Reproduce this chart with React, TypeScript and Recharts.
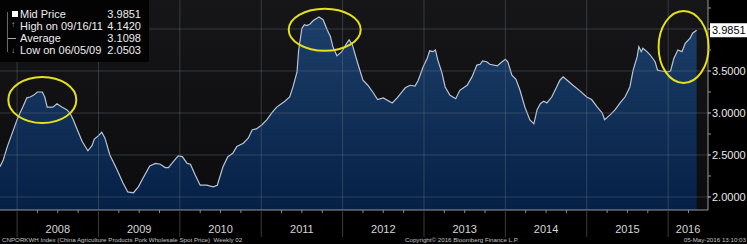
import React from 'react'
import { AreaChart, Area, XAxis, YAxis, CartesianGrid, ReferenceLine, ReferenceDot } from 'recharts'

// weekly spot price, sampled off the chart (decimal years)
const weeks = [
  2007.79, 2007.83, 2007.88, 2007.94, 2008.0, 2008.04, 2008.07, 2008.12, 2008.16, 2008.2,
  2008.25, 2008.31, 2008.34, 2008.37, 2008.44, 2008.49, 2008.55, 2008.61, 2008.65, 2008.69,
  2008.74, 2008.8, 2008.87, 2008.92, 2008.95, 2009.0, 2009.04, 2009.08, 2009.14, 2009.23,
  2009.3, 2009.36, 2009.43, 2009.49, 2009.55, 2009.63, 2009.7, 2009.76, 2009.82, 2009.86,
  2009.92, 2009.98, 2010.03, 2010.09, 2010.13, 2010.19, 2010.25, 2010.33, 2010.41, 2010.46,
  2010.53, 2010.59, 2010.65, 2010.7, 2010.78, 2010.84, 2010.89, 2010.94, 2011.01, 2011.07,
  2011.13, 2011.19, 2011.26, 2011.29, 2011.35, 2011.39, 2011.44, 2011.46, 2011.5, 2011.53,
  2011.56, 2011.6, 2011.64, 2011.69, 2011.71, 2011.76, 2011.81, 2011.85, 2011.88, 2011.93,
  2011.99, 2012.05, 2012.08, 2012.12, 2012.18, 2012.25, 2012.31, 2012.37, 2012.43, 2012.5,
  2012.61, 2012.67, 2012.73, 2012.77, 2012.83, 2012.89, 2012.93, 2012.99, 2013.04, 2013.07,
  2013.11, 2013.14, 2013.17, 2013.22, 2013.26, 2013.32, 2013.39, 2013.44, 2013.53, 2013.59,
  2013.65, 2013.69, 2013.72, 2013.77, 2013.81, 2013.9, 2013.96, 2014.0, 2014.03, 2014.08,
  2014.13, 2014.18, 2014.24, 2014.3, 2014.35, 2014.39, 2014.43, 2014.47, 2014.51, 2014.57,
  2014.63, 2014.67, 2014.71, 2014.77, 2014.83, 2014.92, 2015.0, 2015.06, 2015.13, 2015.19,
  2015.22, 2015.29, 2015.35, 2015.41, 2015.47, 2015.53, 2015.57, 2015.62, 2015.64, 2015.67,
  2015.69, 2015.74, 2015.78, 2015.84, 2015.87, 2015.92, 2015.99, 2016.03, 2016.07, 2016.12,
  2016.17, 2016.21, 2016.27, 2016.3, 2016.35,
]
const prices = [
  2.36, 2.44, 2.6, 2.76, 2.92, 3.01, 3.07, 3.18, 3.19, 3.21,
  3.25, 3.25, 3.19, 3.07, 3.07, 3.11, 3.07, 3.04, 3.0, 2.92,
  2.8, 2.66, 2.55, 2.61, 2.69, 2.73, 2.77, 2.7, 2.5, 2.32,
  2.17, 2.06, 2.0503, 2.12, 2.23, 2.37, 2.4, 2.39, 2.35, 2.35,
  2.42, 2.49, 2.48, 2.4, 2.39, 2.26, 2.14, 2.14, 2.12, 2.14,
  2.36, 2.48, 2.52, 2.6, 2.64, 2.7, 2.8, 2.81, 2.86, 2.92,
  3.0, 3.07, 3.12, 3.14, 3.19, 3.31, 3.49, 3.75, 4.01, 4.05,
  4.04, 4.06, 4.1, 4.13, 4.142, 4.11, 3.99, 3.91, 3.79, 3.68,
  3.73, 3.83, 3.87, 3.81, 3.61, 3.39, 3.33, 3.25, 3.16, 3.18,
  3.12, 3.18, 3.25, 3.3, 3.33, 3.32, 3.39, 3.55, 3.65, 3.74,
  3.73, 3.75, 3.63, 3.48, 3.31, 3.21, 3.17, 3.27, 3.33, 3.43,
  3.57, 3.58, 3.62, 3.61, 3.58, 3.56, 3.61, 3.64, 3.61, 3.45,
  3.4, 3.27, 3.07, 2.92, 2.87, 3.04, 3.11, 3.14, 3.12, 3.19,
  3.31, 3.39, 3.43, 3.38, 3.33, 3.26, 3.19, 3.16, 3.07, 3.0,
  2.92, 2.98, 3.04, 3.12, 3.19, 3.31, 3.51, 3.67, 3.79, 3.73,
  3.77, 3.73, 3.69, 3.61, 3.51, 3.5, 3.49, 3.5, 3.65, 3.75,
  3.73, 3.83, 3.89, 3.95, 3.9851,
]

const years = [2008, 2009, 2010, 2011, 2012, 2013, 2014, 2015, 2016]
const priceTicks = [2.0, 2.5, 3.0, 3.5, 4.0]
const minorPriceTicks = [2.25, 2.75, 3.25, 3.75, 4.25]

const statLabels = ['Mid Price', 'High on 09/16/11', 'Average', 'Low on 06/05/09']
const statValues = ['3.9851', '4.1420', '3.1098', '2.0503']

// circled spots: [decimal year, price]
const circled = [
  [2008.31, 3.155],
  [2011.78, 3.99],
  [2016.19, 3.786],
]

const xDomain = [2007.79, 2016.49]
const yDomain = [1.845, 4.345]

const data = weeks.map((t, i) => ({ t, price: prices[i] }))
const lastPrice = prices[prices.length - 1]

const quarterTicks = years.flatMap((y) => [y + 0.25, y + 0.5, y + 0.75]).filter((q) => q < xDomain[1])
const labelTicks = years.map((y) => (y + Math.min(y + 1, xDomain[1])) / 2)
const xTicks = Array.from(new Set([...years, ...quarterTicks, ...labelTicks])).sort((a, b) => a - b)
const yTicks = [...minorPriceTicks, ...priceTicks, lastPrice]

const font = '"Liberation Sans", Arial, sans-serif'

const XTick = (props: any) => {
  const { x, y, payload } = props
  const v = payload.value
  const li = labelTicks.indexOf(v)
  return (
    <g>
      {years.includes(v) && <line x1={x} x2={x} y1={y} y2={y + 27} stroke="#3c3c3c" />}
      {quarterTicks.includes(v) && <line x1={x} x2={x} y1={y} y2={y + 3} stroke="#8a8a8a" />}
      {li >= 0 && (
        <text x={x} y={y + 23} textAnchor="middle" fill="#d6d6d6" fontSize={11}>
          {years[li]}
        </text>
      )}
    </g>
  )
}

const YTick = (props: any) => {
  const { x, y, payload } = props
  const v = payload.value
  if (v === lastPrice && !priceTicks.includes(v)) {
    return (
      <g>
        <rect x={x + 2} y={y - 7} width={37} height={14} fill="#ffffff" />
        <text x={x + 4} y={y} dy={4} fill="#000" fontSize={11}>
          {v.toFixed(4)}
        </text>
      </g>
    )
  }
  if (priceTicks.includes(v)) {
    return (
      <g>
        <line x1={x} x2={x + 3} y1={y} y2={y} stroke="#cfcfcf" />
        {v !== 4 && (
          <text x={x + 4} y={y} dy={4} fill="#e8e8e8" fontSize={11}>
            {v.toFixed(4)}
          </text>
        )}
      </g>
    )
  }
  return <line x1={x} x2={x + 3} y1={y} y2={y} stroke="#9a9a9a" />
}

const Ring = (props: any) => {
  const { cx, cy, i } = props
  const r = [[34, 23], [36, 21], [25, 36]][i]
  return <ellipse cx={cx} cy={cy} rx={r[0]} ry={r[1]} fill="none" stroke="#e4e01a" strokeWidth={2} />
}

const StatBox = () => (
  <div style={{ position: 'absolute', left: 0, top: 0, width: 149, height: 62, background: '#030303', color: '#eeeeee', fontSize: 11, fontFamily: font }}>
    <div style={{ position: 'absolute', left: 7, top: 12, width: 1, height: 40, background: '#6a6a6a' }} />
    {statLabels.map((s, i) => (
      <div key={s} style={{ position: 'absolute', left: 0, top: 8 + i * 12, width: 141, height: 12, lineHeight: '12px' }}>
        {i === 0 && <span style={{ position: 'absolute', left: 12, top: 3, width: 6, height: 6, background: '#fff' }} />}
        {i === 1 && <span style={{ position: 'absolute', left: 11, top: -1, fontSize: 8, color: '#aaa' }}>↑</span>}
        {i === 2 && <span style={{ position: 'absolute', left: 8, top: 6, width: 8, height: 1, background: '#aaa' }} />}
        {i === 3 && <span style={{ position: 'absolute', left: 11, top: 1, fontSize: 8, color: '#aaa' }}>↓</span>}
        <span style={{ position: 'absolute', left: 20 }}>{s}</span>
        <span style={{ position: 'absolute', right: 0 }}>{statValues[i]}</span>
      </div>
    ))}
  </div>
)

const footStyle: React.CSSProperties = { position: 'absolute', top: 236, fontSize: 6.2, color: '#c4c4c4', whiteSpace: 'nowrap' }

const App = () => {
  return (
    <div style={{ position: 'fixed', left: 0, top: 0, width: 747, height: 244, background: '#000', fontFamily: font }}>
      <AreaChart width={747} height={244} data={data} margin={{ top: 0, right: 0, bottom: 0, left: 0 }}>
        <defs>
          <linearGradient id="plotBg" x1="0" y1="0" x2="0" y2="1">
            <stop offset="0%" stopColor="#161618" />
            <stop offset="100%" stopColor="#0c0c0e" />
          </linearGradient>
          <linearGradient id="areaFill" x1="0" y1="0" x2="0" y2="1">
            <stop offset="0%" stopColor="#1c3f69" />
            <stop offset="100%" stopColor="#062046" />
          </linearGradient>
        </defs>
        <CartesianGrid horizontal={false} vertical={false} fill="url(#plotBg)" />
        <XAxis
          dataKey="t"
          type="number"
          domain={xDomain}
          ticks={xTicks}
          interval={0}
          height={34}
          tickSize={0}
          tickMargin={0}
          tickLine={false}
          axisLine={{ stroke: '#9a9a9a' }}
          tick={<XTick />}
          allowDataOverflow
        />
        <YAxis
          orientation="right"
          type="number"
          domain={yDomain}
          ticks={yTicks}
          interval={0}
          width={39}
          tickSize={0}
          tickMargin={0}
          tickLine={false}
          axisLine={{ stroke: '#9a9a9a' }}
          tick={<YTick />}
          allowDataOverflow
        />
        <Area
          type="linear"
          dataKey="price"
          stroke="#b9c5d6"
          strokeWidth={1.2}
          fill="url(#areaFill)"
          fillOpacity={1}
          isAnimationActive={false}
        />
        {priceTicks.map((v) => (
          <ReferenceLine key={'h' + v} y={v} stroke="#6a7280" strokeOpacity={0.4} />
        ))}
        {years.map((y) => (
          <ReferenceLine key={'v' + y} x={y} stroke="#6a7280" strokeOpacity={0.4} />
        ))}
        {circled.map((c, i) => (
          <ReferenceDot key={'c' + i} x={c[0]} y={c[1]} r={1} shape={(p: any) => <Ring {...p} i={i} />} />
        ))}
      </AreaChart>
      <StatBox />
      <div style={{ ...footStyle, left: 2 }}>
        CNPORKWH Index (China Agriculture Products Pork Wholesale Spot Price)&nbsp;&nbsp;Weekly 02
      </div>
      <div style={{ ...footStyle, left: 405 }}>Copyright© 2016 Bloomberg Finance L.P.</div>
      <div style={{ ...footStyle, right: 1 }}>05-May-2016 13:10:03</div>
    </div>
  )
}

export default App
